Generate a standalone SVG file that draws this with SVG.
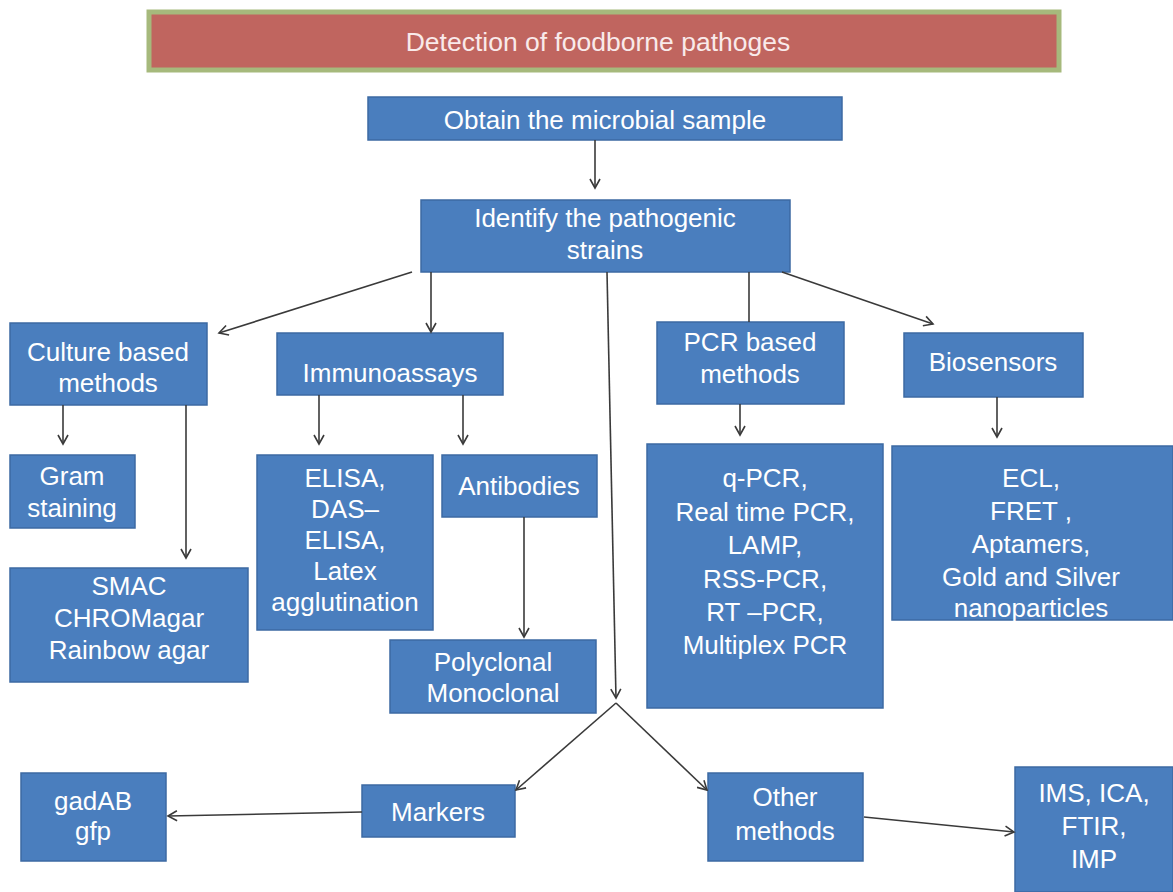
<svg xmlns="http://www.w3.org/2000/svg" width="1173" height="892" viewBox="0 0 1173 892">
<defs>
<marker id="ah" markerWidth="12" markerHeight="12" refX="10" refY="6" orient="auto" markerUnits="userSpaceOnUse">
<path d="M1,1 L10,6 L1,11" fill="none" stroke="#3a3a3a" stroke-width="1.6"/>
</marker>
<style>
.box{fill:#4a7ebe;stroke:#3d6aa3;stroke-width:1.5}
.t{font-family:"Liberation Sans",Arial,sans-serif;font-size:26px;fill:#ffffff;text-anchor:middle}
.c{stroke:#3a3a3a;stroke-width:1.6;fill:none}
</style>
</defs>
<rect width="1173" height="892" fill="#ffffff"/>
<g id="title">
<rect x="149" y="12" width="910" height="58" fill="#c0655f" stroke="#a6b97c" stroke-width="5"/>
<text class="t" x="598" y="51" style="font-size:26.5px;fill:#f9eaea">Detection of foodborne pathoges</text>
</g>
<g id="obtain"><rect class="box" x="368" y="97" width="474" height="43"/><text class="t" x="605" y="129">Obtain the microbial sample</text></g>
<g id="identify"><rect class="box" x="421" y="200" width="369" height="72"/><text class="t" x="605" y="227">Identify the pathogenic</text><text class="t" x="605" y="259">strains</text></g>
<g id="culture"><rect class="box" x="10" y="323" width="197" height="82"/><text class="t" x="108" y="361">Culture based</text><text class="t" x="108" y="392">methods</text></g>
<g id="immuno"><rect class="box" x="277" y="333" width="226" height="62"/><text class="t" x="390" y="382">Immunoassays</text></g>
<g id="pcr"><rect class="box" x="657" y="322" width="187" height="82"/><text class="t" x="750" y="351">PCR based</text><text class="t" x="750" y="383">methods</text></g>
<g id="biosensors"><rect class="box" x="904" y="333" width="179" height="64"/><text class="t" x="993" y="371">Biosensors</text></g>
<g id="gram"><rect class="box" x="10" y="455" width="125" height="73"/><text class="t" x="72" y="485">Gram</text><text class="t" x="72" y="517">staining</text></g>
<g id="smac"><rect class="box" x="10" y="568" width="238" height="114"/><text class="t" x="129" y="595">SMAC</text><text class="t" x="129" y="627">CHROMagar</text><text class="t" x="129" y="659">Rainbow agar</text></g>
<g id="elisa"><rect class="box" x="257" y="455" width="176" height="175"/><text class="t" x="345" y="487">ELISA,</text><text class="t" x="345" y="518">DAS–</text><text class="t" x="345" y="549">ELISA,</text><text class="t" x="345" y="580">Latex</text><text class="t" x="345" y="611">agglutination</text></g>
<g id="antibodies"><rect class="box" x="442" y="455" width="155" height="62"/><text class="t" x="519" y="495">Antibodies</text></g>
<g id="clonal"><rect class="box" x="390" y="640" width="206" height="73"/><text class="t" x="493" y="671">Polyclonal</text><text class="t" x="493" y="702">Monoclonal</text></g>
<g id="qpcr"><rect class="box" x="647" y="444" width="236" height="264"/><text class="t" x="765" y="487">q-PCR,</text><text class="t" x="765" y="521">Real time PCR,</text><text class="t" x="765" y="554">LAMP,</text><text class="t" x="765" y="588">RSS-PCR,</text><text class="t" x="765" y="621">RT –PCR,</text><text class="t" x="765" y="654">Multiplex PCR</text></g>
<g id="ecl"><rect class="box" x="892" y="446" width="281" height="174"/><text class="t" x="1031" y="487">ECL,</text><text class="t" x="1031" y="520">FRET ,</text><text class="t" x="1031" y="553">Aptamers,</text><text class="t" x="1031" y="586">Gold and Silver</text><text class="t" x="1031" y="617">nanoparticles</text></g>
<g id="gadab"><rect class="box" x="21" y="773" width="145" height="88"/><text class="t" x="93" y="810">gadAB</text><text class="t" x="93" y="840">gfp</text></g>
<g id="markers"><rect class="box" x="362" y="785" width="153" height="52"/><text class="t" x="438" y="821">Markers</text></g>
<g id="other"><rect class="box" x="708" y="773" width="155" height="88"/><text class="t" x="785" y="806">Other</text><text class="t" x="785" y="840">methods</text></g>
<g id="ims"><rect class="box" x="1015" y="767" width="158" height="125"/><text class="t" x="1094" y="802">IMS, ICA,</text><text class="t" x="1094" y="835">FTIR,</text><text class="t" x="1094" y="868">IMP</text></g>
<g id="connectors">
<line class="c" x1="595" y1="140" x2="595" y2="188" marker-end="url(#ah)"/>
<line class="c" x1="412" y1="272" x2="219" y2="333" marker-end="url(#ah)"/>
<line class="c" x1="431" y1="272" x2="431" y2="332" marker-end="url(#ah)"/>
<line class="c" x1="607" y1="272" x2="616" y2="698" marker-end="url(#ah)"/>
<line class="c" x1="749" y1="272" x2="749" y2="322"/>
<line class="c" x1="782" y1="272" x2="933" y2="324" marker-end="url(#ah)"/>
<line class="c" x1="63" y1="405" x2="63" y2="444" marker-end="url(#ah)"/>
<line class="c" x1="186" y1="405" x2="186" y2="558" marker-end="url(#ah)"/>
<line class="c" x1="319" y1="395" x2="319" y2="444" marker-end="url(#ah)"/>
<line class="c" x1="463" y1="395" x2="463" y2="444" marker-end="url(#ah)"/>
<line class="c" x1="524" y1="517" x2="524" y2="637" marker-end="url(#ah)"/>
<line class="c" x1="740" y1="404" x2="740" y2="435" marker-end="url(#ah)"/>
<line class="c" x1="997" y1="397" x2="997" y2="437" marker-end="url(#ah)"/>
<line class="c" x1="616" y1="703" x2="516" y2="790" marker-end="url(#ah)"/>
<line class="c" x1="616" y1="703" x2="707" y2="790" marker-end="url(#ah)"/>
<line class="c" x1="362" y1="812" x2="168" y2="816" marker-end="url(#ah)"/>
<line class="c" x1="864" y1="817" x2="1014" y2="832" marker-end="url(#ah)"/>
</g>
</svg>
